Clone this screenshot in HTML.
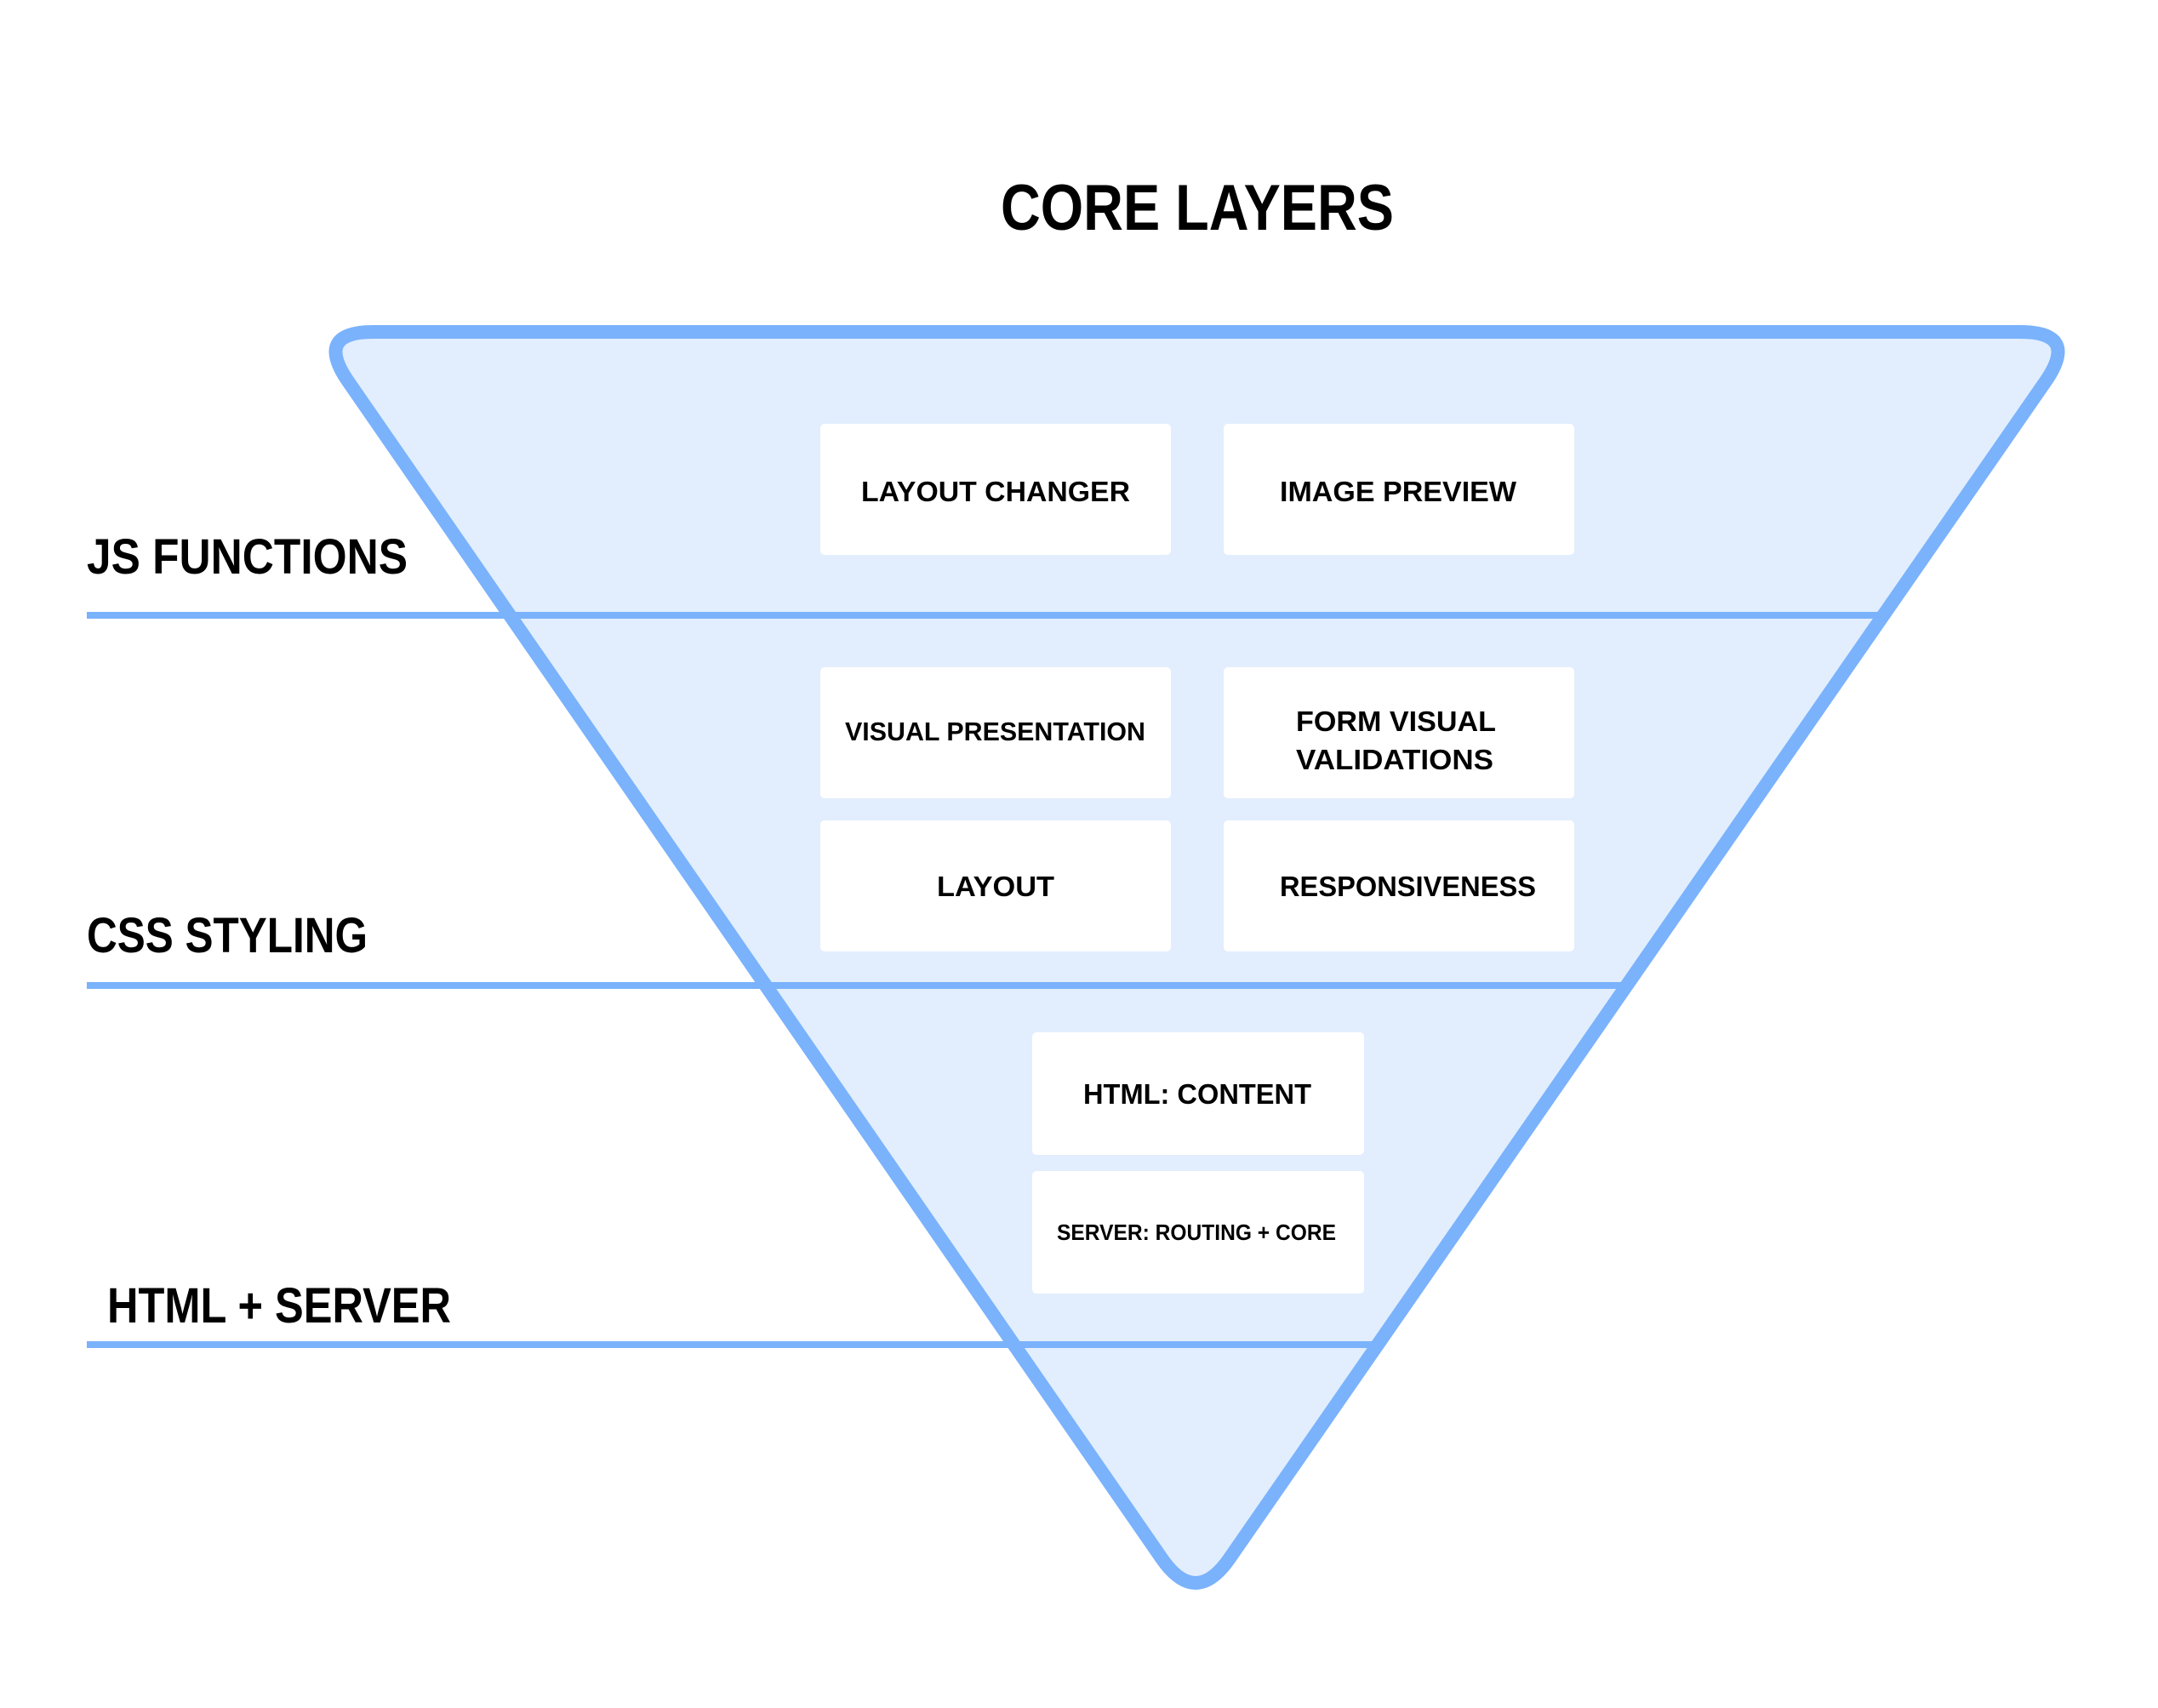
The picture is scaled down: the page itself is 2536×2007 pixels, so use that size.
<!DOCTYPE html>
<html><head><meta charset="utf-8"><style>html,body{margin:0;padding:0;background:#fff}svg{display:block}</style></head>
<body>
<svg width="2536" height="2007" viewBox="0 0 2536 2007" xmlns="http://www.w3.org/2000/svg" font-family="'Liberation Sans', sans-serif" font-weight="bold">
<rect width="2536" height="2007" fill="#fff"/>
<text x="1176" y="270" font-size="76" textLength="462" lengthAdjust="spacingAndGlyphs" fill="#000">CORE LAYERS</text>
<path d="M439,390 L2374,390 Q2444,390 2404,448 L1445,1831 Q1405,1889 1365,1831 L409,448 Q369,390 439,390 Z" fill="#E2EEFD" stroke="#7AB2FC" stroke-width="16" stroke-linejoin="round"/>
<g fill="#7AB2FC">
<rect x="102" y="719" width="2112" height="8"/>
<rect x="102" y="1154" width="1810" height="8"/>
<rect x="102" y="1576" width="1512" height="8"/>
</g>
<g fill="#000" font-size="58">
<text x="102" y="674" textLength="377" lengthAdjust="spacingAndGlyphs">JS FUNCTIONS</text>
<text x="102" y="1119" textLength="330" lengthAdjust="spacingAndGlyphs">CSS STYLING</text>
<text x="126" y="1554" textLength="404" lengthAdjust="spacingAndGlyphs">HTML + SERVER</text>
</g>
<g fill="#fff">
<rect x="964" y="498" width="412" height="154" rx="5"/>
<rect x="1438" y="498" width="412" height="154" rx="5"/>
<rect x="964" y="784" width="412" height="154" rx="5"/>
<rect x="1438" y="784" width="412" height="154" rx="5"/>
<rect x="964" y="964" width="412" height="154" rx="5"/>
<rect x="1438" y="964" width="412" height="154" rx="5"/>
<rect x="1213" y="1213" width="390" height="144" rx="5"/>
<rect x="1213" y="1376" width="390" height="144" rx="5"/>
</g>
<g fill="#000" font-size="33">
<text x="1012" y="589" textLength="316" lengthAdjust="spacingAndGlyphs">LAYOUT CHANGER</text>
<text x="1504" y="589" textLength="278" lengthAdjust="spacingAndGlyphs">IMAGE PREVIEW</text>
<text x="993" y="870" textLength="353" lengthAdjust="spacingAndGlyphs" font-size="31">VISUAL PRESENTATION</text>
<text x="1523" y="859" textLength="235" lengthAdjust="spacingAndGlyphs">FORM VISUAL</text>
<text x="1523" y="904" textLength="232" lengthAdjust="spacingAndGlyphs">VALIDATIONS</text>
<text x="1101" y="1053" textLength="138" lengthAdjust="spacingAndGlyphs">LAYOUT</text>
<text x="1504" y="1053" textLength="301" lengthAdjust="spacingAndGlyphs">RESPONSIVENESS</text>
<text x="1273" y="1297" textLength="268" lengthAdjust="spacingAndGlyphs">HTML: CONTENT</text>
<text x="1242" y="1457" textLength="328" lengthAdjust="spacingAndGlyphs" font-size="26">SERVER: ROUTING + CORE</text>
</g>
</svg>
</body></html>
